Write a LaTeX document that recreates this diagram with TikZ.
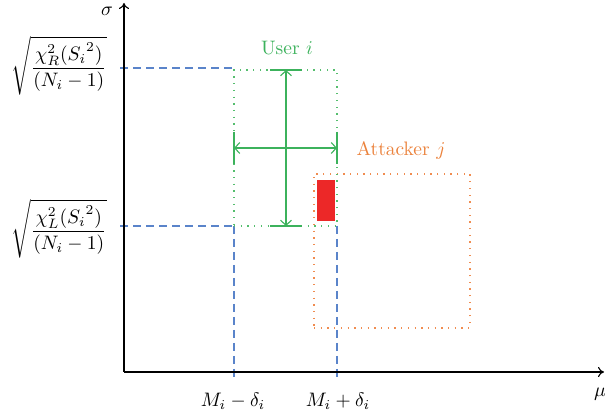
\documentclass[tikz,border=0pt]{standalone}
\usepackage{amsmath}
\usetikzlibrary{arrows.meta}
\definecolor{ugreen}{RGB}{60,178,92}
\definecolor{dgreen}{RGB}{85,190,110}
\definecolor{aorange}{RGB}{235,130,60}
\definecolor{dorange}{RGB}{240,140,80}
\definecolor{dblue}{RGB}{90,132,202}
\definecolor{ared}{RGB}{236,40,40}
\newcommand{\bigtxt}[1]{\scalebox{1.95}{#1}}
\tikzset{
  axis/.style={line width=1.1pt,-{To[length=6pt,width=10pt]}},
  guide/.style={dblue,line width=1.3pt,dash pattern=on 8pt off 5pt},
  ubox/.style={draw=dgreen,line width=1.3pt,dash pattern=on 1.3pt off 5.4pt,inner sep=0pt,outer sep=0pt},
  abox/.style={draw=dorange,line width=1.3pt,dash pattern=on 1.3pt off 5.4pt,inner sep=0pt,outer sep=0pt},
  garrow/.style={ugreen,line width=1.1pt,{Straight Barb[length=5pt,width=11pt]}-{Straight Barb[length=5pt,width=11pt]}},
  gbar/.style={ugreen,line width=1.2pt},
  lbl/.style={inner sep=0pt}
}
\begin{document}
\begin{tikzpicture}[x=1pt,y=-1pt]
\useasboundingbox (0,0) rectangle (605,419);
% guides
\coordinate (gR) at (120,68);
\coordinate (gL) at (120,226);
\coordinate (c1) at (234,68);
\coordinate (c2) at (234,226);
\coordinate (c3) at (337,226);
\coordinate (b1) at (234,378);
\coordinate (b2) at (337,378);
\draw[guide] (gR) -- (c1);
\draw[guide] (gL) -- (c2);
\draw[guide] (c2) -- (b1);
\draw[guide] (c3) -- (b2);
% axes
\coordinate (O) at (124,372);
\coordinate (Ytop) at (124,3);
\coordinate (Xend) at (604,372);
\draw[axis] (O) -- (Ytop);
\draw[axis] (O) -- (Xend);
\node[lbl] (sig) at (107,11) {\bigtxt{$\sigma$}};
\node[lbl] (mu) at (600,394) {\bigtxt{$\mu$}};
% attacker box
\node[abox,minimum width=156pt,minimum height=154pt] (abx) at (392,251) {};
\node[lbl,text=aorange] (atl) at (401,150) {\bigtxt{Attacker $j$}};
% red rect
\fill[ared] (317,180) rectangle (335,221);
% user box
\node[ubox,minimum width=103pt,minimum height=156pt] (ubx) at (285.5,148) {};
\node[lbl,text=ugreen] (usl) at (287,48) {\bigtxt{User $i$}};
\coordinate (vt) at (286,70);
\coordinate (vb) at (286,226);
\coordinate (hl) at (234,148);
\coordinate (hr) at (337,148);
\draw[garrow] (vt) -- (vb);
\draw[garrow] (hl) -- (hr);
\draw[gbar] (270,70) -- (302,70);
\draw[gbar] (270,226) -- (302,226);
\draw[gbar] (234,132) -- (234,164);
\draw[gbar] (337,132) -- (337,164);
% labels
\node[lbl] (lR) at (59,66) {\bigtxt{$\sqrt{\dfrac{\chi_R^2({S_i}^2)}{(N_i-1)}}$}};
\node[lbl] (lL) at (59,229) {\bigtxt{$\sqrt{\dfrac{\chi_L^2({S_i}^2)}{(N_i-1)}}$}};
\node[lbl] (m1) at (233,401) {\bigtxt{$M_i-\delta_i$}};
\node[lbl] (m2) at (338,401) {\bigtxt{$M_i+\delta_i$}};
\end{tikzpicture}
\end{document}
